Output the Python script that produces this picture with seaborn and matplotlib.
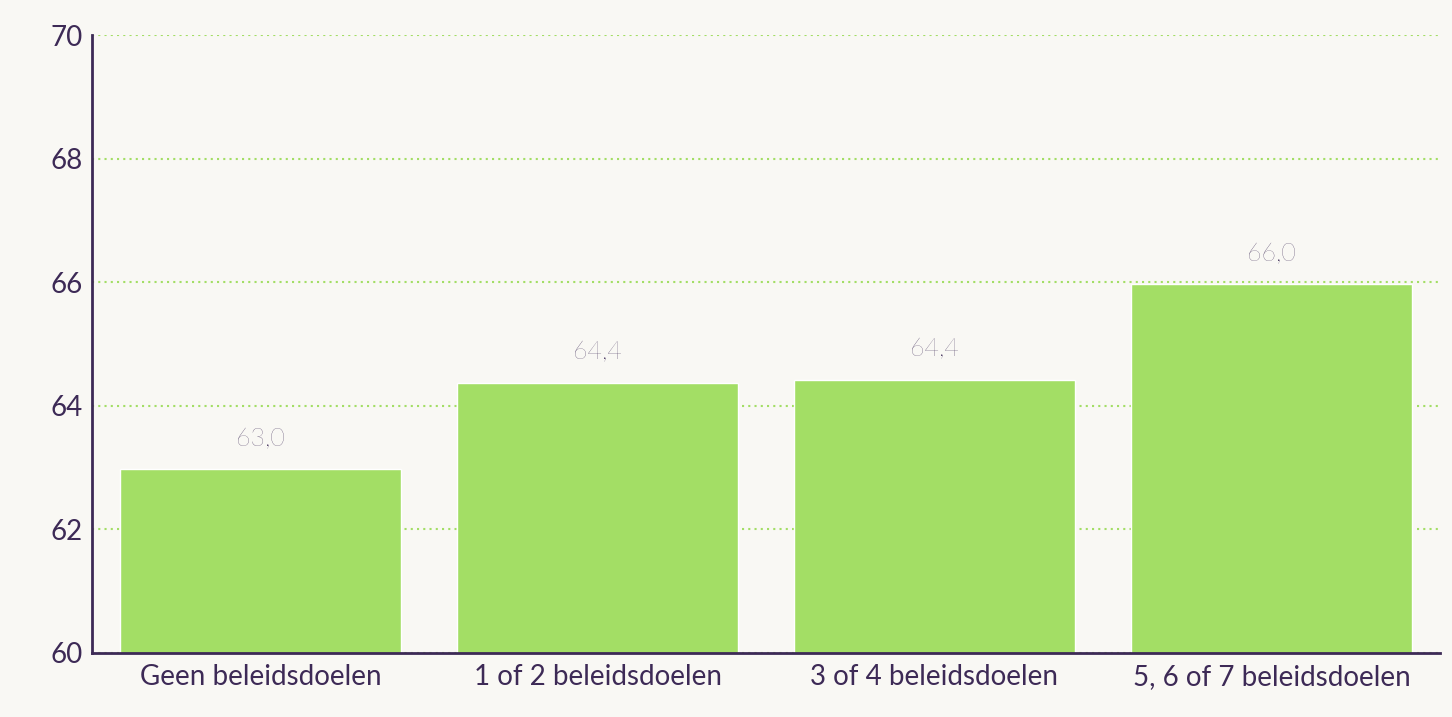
import matplotlib
matplotlib.use("Agg")
import matplotlib.pyplot as plt
import seaborn as sns
import pandas as pd

categories = ["Geen beleidsdoelen", "1 of 2 beleidsdoelen", "3 of 4 beleidsdoelen", "5, 6 of 7 beleidsdoelen"]
values = [62.97, 64.37, 64.42, 65.97]
labels = ["63,0", "64,4", "64,4", "66,0"]
yticks = [60, 62, 64, 66, 68, 70]

bg = "#f9f8f4"
txt = "#3d2a56"
sns.set_theme(style="white")
plt.rcParams['font.family'] = ['Lato', 'DejaVu Sans']

fig = plt.figure(figsize=(14.52, 7.17), dpi=100, facecolor=bg)
ax = fig.add_axes([92/1452, 1-653/717, (1440-92)/1452, (653-35)/717])
ax.set_facecolor(bg)
df = pd.DataFrame({"cat": categories, "val": values})
sns.barplot(data=df, x="cat", y="val", color="#a3de65", saturation=1, width=0.834, ax=ax)
ax.set_xlim(-0.5, 3.5)
ax.set_ylim(60, 70)
ax.set_yticks(yticks)
ax.set_yticklabels([str(t) for t in yticks])
ax.set_xlabel(""); ax.set_ylabel("")
ax.yaxis.grid(True, linestyle=(0, (1, 2)), color="#a3de65", linewidth=1.5)
ax.set_axisbelow(True)
for s in ["top", "right"]:
    ax.spines[s].set_visible(False)
for s in ["left", "bottom"]:
    ax.spines[s].set_color(txt); ax.spines[s].set_linewidth(2)
ax.tick_params(axis="both", colors=txt, labelsize=20, length=0, pad=8)
ax.tick_params(axis="y", pad=30)
for lab in ax.get_yticklabels():
    lab.set_horizontalalignment("left")
for i, (v, l) in enumerate(zip(values, labels)):
    ax.text(i, v + 0.3, l, ha="center", va="bottom", fontsize=18, color=txt, fontweight="light")
fig.savefig("out.png", dpi=100, facecolor=bg)
